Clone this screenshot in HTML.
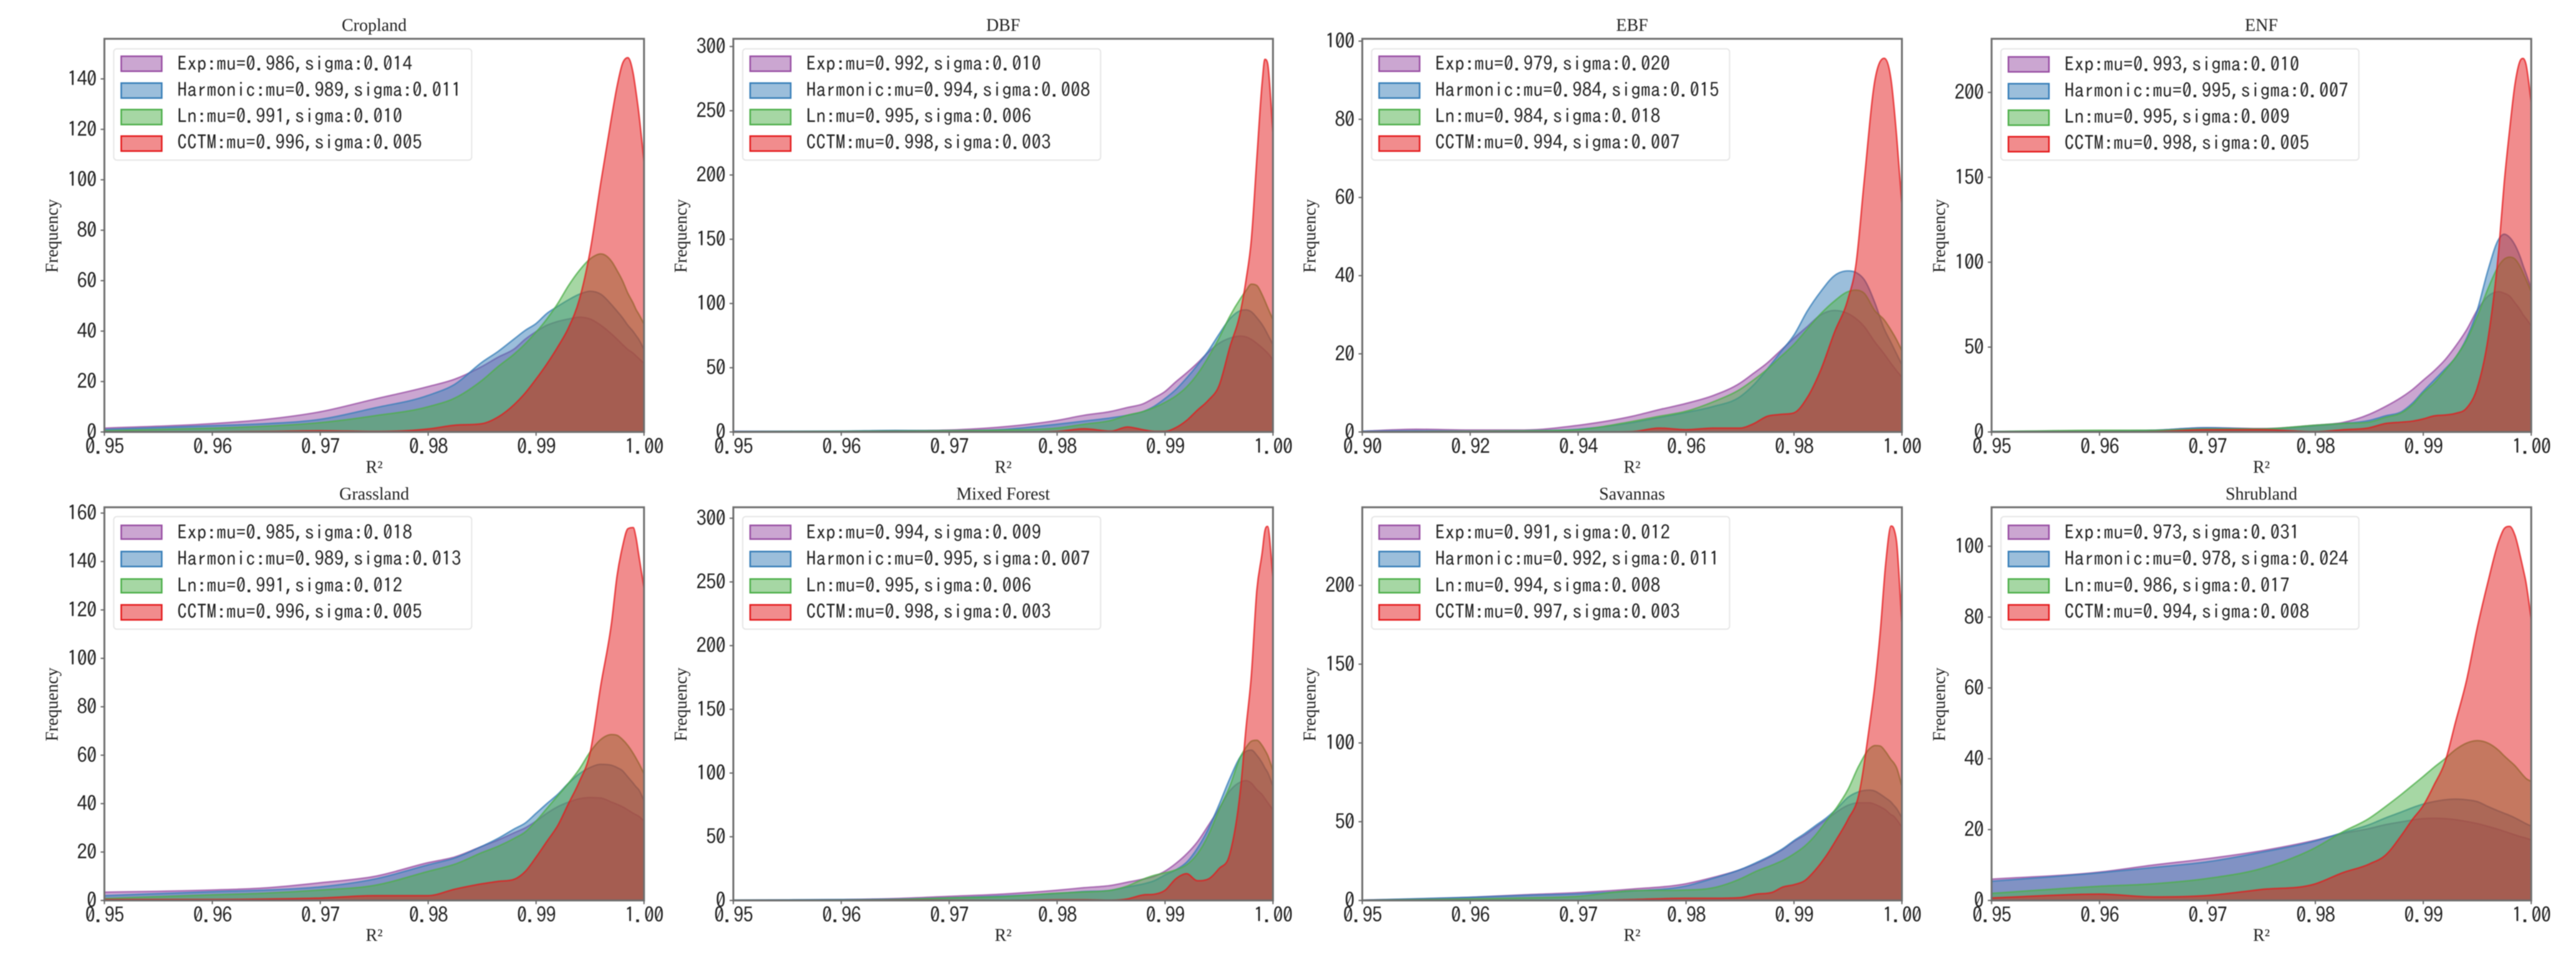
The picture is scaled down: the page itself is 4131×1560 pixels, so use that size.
<!DOCTYPE html>
<html lang="en">
<head>
<meta charset="utf-8">
<title>R² frequency distributions by land cover</title>
<style>
html,body{margin:0;padding:0;background:#fff;width:4131px;height:1560px;overflow:hidden}
svg{display:block;filter:blur(0.7px)}
.ttl,.axl{font-family:"Liberation Serif",serif;font-size:28px;fill:#222;text-anchor:middle}
.tick{font-family:"IPAGothic","Liberation Mono",monospace;font-size:33px;fill:#222;letter-spacing:-1px}
.lg{font-family:"IPAGothic","Liberation Mono",monospace;font-size:31px;fill:#222;letter-spacing:0.2px}
.frame{fill:#fff;fill-opacity:.8;stroke:#e6e6e6;stroke-width:2}
.pe{fill:#984ea3;fill-opacity:.5;stroke:#984ea3;stroke-width:2.5}
.ph{fill:#377eb8;fill-opacity:.5;stroke:#377eb8;stroke-width:2.5}
.pl{fill:#4daf4a;fill-opacity:.5;stroke:#4daf4a;stroke-width:2.5}
.pc{fill:#e41a1c;fill-opacity:.5;stroke:#e41a1c;stroke-width:2.5}
</style>
</head>
<body>
<svg xmlns="http://www.w3.org/2000/svg" width="4131" height="1560" viewBox="0 0 4131 1560">
<rect width="4131" height="1560" fill="#fff"/>

<g id="p-cropland" transform="translate(167.4,62.2)">
  <g class="plot"></g>
  <text class="ttl" x="432.7" y="-12.5">Cropland</text>
  <text class="axl" x="432.7" y="696">R²</text>
  <text class="axl" transform="translate(-75,316) rotate(-90)">Frequency</text>
  <g>
    <rect class="frame" x="15" y="16" width="574" height="178.5" rx="5"/>
    <rect class="pe" x="27" y="28" width="65" height="24"/>
    <text class="lg" x="117" y="51">Exp:mu=0.986,sigma:0.014</text>
    <rect class="ph" x="27" y="71" width="65" height="24"/>
    <text class="lg" x="117" y="93">Harmonic:mu=0.989,sigma:0.011</text>
    <rect class="pl" x="27" y="113.5" width="65" height="24"/>
    <text class="lg" x="117" y="135">Ln:mu=0.991,sigma:0.010</text>
    <rect class="pc" x="27" y="156" width="65" height="24"/>
    <text class="lg" x="117" y="177">CCTM:mu=0.996,sigma:0.005</text>
  </g>
</g>

<g id="p-dbf" transform="translate(1176,62.2)">
  <g class="plot"></g>
  <text class="ttl" x="432.7" y="-12.5">DBF</text>
  <text class="axl" x="432.7" y="696">R²</text>
  <text class="axl" transform="translate(-75,316) rotate(-90)">Frequency</text>
  <g>
    <rect class="frame" x="15" y="16" width="574" height="178.5" rx="5"/>
    <rect class="pe" x="27" y="28" width="65" height="24"/>
    <text class="lg" x="117" y="51">Exp:mu=0.992,sigma:0.010</text>
    <rect class="ph" x="27" y="71" width="65" height="24"/>
    <text class="lg" x="117" y="93">Harmonic:mu=0.994,sigma:0.008</text>
    <rect class="pl" x="27" y="113.5" width="65" height="24"/>
    <text class="lg" x="117" y="135">Ln:mu=0.995,sigma:0.006</text>
    <rect class="pc" x="27" y="156" width="65" height="24"/>
    <text class="lg" x="117" y="177">CCTM:mu=0.998,sigma:0.003</text>
  </g>
</g>

<g id="p-ebf" transform="translate(2184.6,62.2)">
  <g class="plot"></g>
  <text class="ttl" x="432.7" y="-12.5">EBF</text>
  <text class="axl" x="432.7" y="696">R²</text>
  <text class="axl" transform="translate(-75,316) rotate(-90)">Frequency</text>
  <g>
    <rect class="frame" x="15" y="16" width="574" height="178.5" rx="5"/>
    <rect class="pe" x="27" y="28" width="65" height="24"/>
    <text class="lg" x="117" y="51">Exp:mu=0.979,sigma:0.020</text>
    <rect class="ph" x="27" y="71" width="65" height="24"/>
    <text class="lg" x="117" y="93">Harmonic:mu=0.984,sigma:0.015</text>
    <rect class="pl" x="27" y="113.5" width="65" height="24"/>
    <text class="lg" x="117" y="135">Ln:mu=0.984,sigma:0.018</text>
    <rect class="pc" x="27" y="156" width="65" height="24"/>
    <text class="lg" x="117" y="177">CCTM:mu=0.994,sigma:0.007</text>
  </g>
</g>

<g id="p-enf" transform="translate(3193.8,62.2)">
  <g class="plot"></g>
  <text class="ttl" x="432.7" y="-12.5">ENF</text>
  <text class="axl" x="432.7" y="696">R²</text>
  <text class="axl" transform="translate(-75,316) rotate(-90)">Frequency</text>
  <g>
    <rect class="frame" x="15" y="16" width="574" height="178.5" rx="5"/>
    <rect class="pe" x="27" y="29" width="65" height="24"/>
    <text class="lg" x="117" y="52">Exp:mu=0.993,sigma:0.010</text>
    <rect class="ph" x="27" y="72" width="65" height="24"/>
    <text class="lg" x="117" y="94">Harmonic:mu=0.995,sigma:0.007</text>
    <rect class="pl" x="27" y="114.5" width="65" height="24"/>
    <text class="lg" x="117" y="136">Ln:mu=0.995,sigma:0.009</text>
    <rect class="pc" x="27" y="157" width="65" height="24"/>
    <text class="lg" x="117" y="178">CCTM:mu=0.998,sigma:0.005</text>
  </g>
</g>

<g id="p-grassland" transform="translate(167.4,813.3)">
  <g class="plot"></g>
  <text class="ttl" x="432.7" y="-12.5">Grassland</text>
  <text class="axl" x="432.7" y="695">R²</text>
  <text class="axl" transform="translate(-75,316) rotate(-90)">Frequency</text>
  <g>
    <rect class="frame" x="15" y="15" width="574" height="180.5" rx="5"/>
    <rect class="pe" x="27" y="29" width="65" height="22"/>
    <text class="lg" x="117" y="51">Exp:mu=0.985,sigma:0.018</text>
    <rect class="ph" x="27" y="71" width="65" height="24"/>
    <text class="lg" x="117" y="93">Harmonic:mu=0.989,sigma:0.013</text>
    <rect class="pl" x="27" y="115" width="65" height="22"/>
    <text class="lg" x="117" y="136">Ln:mu=0.991,sigma:0.012</text>
    <rect class="pc" x="27" y="156.5" width="65" height="24"/>
    <text class="lg" x="117" y="178">CCTM:mu=0.996,sigma:0.005</text>
  </g>
</g>

<g id="p-mixed" transform="translate(1176,813.3)">
  <g class="plot"></g>
  <text class="ttl" x="432.7" y="-12.5">Mixed Forest</text>
  <text class="axl" x="432.7" y="695">R²</text>
  <text class="axl" transform="translate(-75,316) rotate(-90)">Frequency</text>
  <g>
    <rect class="frame" x="15" y="15" width="574" height="180.5" rx="5"/>
    <rect class="pe" x="27" y="29" width="65" height="22"/>
    <text class="lg" x="117" y="51">Exp:mu=0.994,sigma:0.009</text>
    <rect class="ph" x="27" y="71" width="65" height="24"/>
    <text class="lg" x="117" y="93">Harmonic:mu=0.995,sigma:0.007</text>
    <rect class="pl" x="27" y="115" width="65" height="22"/>
    <text class="lg" x="117" y="136">Ln:mu=0.995,sigma:0.006</text>
    <rect class="pc" x="27" y="156.5" width="65" height="24"/>
    <text class="lg" x="117" y="178">CCTM:mu=0.998,sigma:0.003</text>
  </g>
</g>

<g id="p-savannas" transform="translate(2184.6,813.3)">
  <g class="plot"></g>
  <text class="ttl" x="432.7" y="-12.5">Savannas</text>
  <text class="axl" x="432.7" y="695">R²</text>
  <text class="axl" transform="translate(-75,316) rotate(-90)">Frequency</text>
  <g>
    <rect class="frame" x="15" y="15" width="574" height="180.5" rx="5"/>
    <rect class="pe" x="27" y="29" width="65" height="22"/>
    <text class="lg" x="117" y="51">Exp:mu=0.991,sigma:0.012</text>
    <rect class="ph" x="27" y="71" width="65" height="24"/>
    <text class="lg" x="117" y="93">Harmonic:mu=0.992,sigma:0.011</text>
    <rect class="pl" x="27" y="115" width="65" height="22"/>
    <text class="lg" x="117" y="136">Ln:mu=0.994,sigma:0.008</text>
    <rect class="pc" x="27" y="156.5" width="65" height="24"/>
    <text class="lg" x="117" y="178">CCTM:mu=0.997,sigma:0.003</text>
  </g>
</g>

<g id="p-shrubland" transform="translate(3193.8,813.3)">
  <g class="plot"></g>
  <text class="ttl" x="432.7" y="-12.5">Shrubland</text>
  <text class="axl" x="432.7" y="695">R²</text>
  <text class="axl" transform="translate(-75,316) rotate(-90)">Frequency</text>
  <g>
    <rect class="frame" x="15" y="15" width="574" height="180.5" rx="5"/>
    <rect class="pe" x="27" y="29" width="65" height="22"/>
    <text class="lg" x="117" y="51">Exp:mu=0.973,sigma:0.031</text>
    <rect class="ph" x="27" y="71" width="65" height="24"/>
    <text class="lg" x="117" y="93">Harmonic:mu=0.978,sigma:0.024</text>
    <rect class="pl" x="27" y="115" width="65" height="22"/>
    <text class="lg" x="117" y="136">Ln:mu=0.986,sigma:0.017</text>
    <rect class="pc" x="27" y="156.5" width="65" height="24"/>
    <text class="lg" x="117" y="178">CCTM:mu=0.994,sigma:0.008</text>
  </g>
</g>
</svg>

<script>
// Shared R² sample grids
const r2Grid = [.95,.96,.965,.97,.975,.98,.9825,.985,.9865,.988,.989,.99,.991,.992,.993,.994,.995,.996,.997,.9975,.998,.9985,.999,.99925,.9995,1];
const r2GridEbf = [.90,.91,.92,.93,.94,.95,.955,.96,.965,.97,.9725,.975,.9775,.98,.9825,.985,.9875,.99,.9915,.993,.995,.9967,.998,.999,1];

// Tick labels
const xTicksDefault = ["0.95","0.96","0.97","0.98","0.99","1.00"];
const xTicksEbf = ["0.90","0.92","0.94","0.96","0.98","1.00"];
const yTicksCropland = [0,20,40,60,80,100,120,140];
const yTicksDbf = [0,50,100,150,200,250,300];
const yTicksEbf = [0,20,40,60,80,100];
const yTicksEnf = [0,50,100,150,200];
const yTicksGrassland = [0,20,40,60,80,100,120,140,160];
const yTicksMixed = [0,50,100,150,200,250,300];
const yTicksSavannas = [0,50,100,150,200];
const yTicksShrubland = [0,20,40,60,80,100];

// Cropland
const croplandExp = [1.5,3.3,5,8,13,18,21,26,29.7,33,36.8,39.8,42.3,43.8,44.8,45.5,44.8,42.3,38.8,36.8,34.7,32.7,31.2,30.2,29.2,27.2];
const croplandHarmonic = [1,2.5,3.3,5,9.5,14.5,19,27.7,32,37,40.3,43,47,49.8,52.4,54.6,55.8,54.6,50.4,47.9,45.3,42.3,39.8,38.3,36.8,32.7];
const croplandLn = [.5,1.5,2.3,3.7,6.4,10,13.5,20.5,26,31,35,39.6,44.8,50.9,58,64,68.6,70.6,67.6,64,60,55,51,48.6,46.8,42.8];
const croplandCctm = [0,.1,.2,.5,.2,1.2,2.7,3.3,6,11,15.5,21,27,33.7,41.3,52.4,71.6,99,125,137,146,148.4,142,135,127,107];

// DBF
const dbfExp = [.5,.5,1,1.5,4,9,13,16,19,22,26.5,31.5,39,46,53.6,62,69,73,74.6,74,72,69,65.5,63.5,61.5,56];
const dbfHarmonic = [.5,.7,1.2,1,2,6,8.5,11,13,16,20,26,33,42,52,63,76,88,94.5,95,93.5,89,83.5,80,76,68];
const dbfLn = [.2,.5,.7,1,1.5,3,6,9,13,16,19,23,28,35,45,58,73,90,104,110,115,114,106.7,102,97,87.4];
const dbfCctm = [0,0,0,0,0,.5,2.5,.7,3.9,1.7,.5,.5,3.4,9,17,24.6,36,66,94,118,150,212,272,290,287,232];

// EBF
const ebfExp = [.2,.7,.5,.5,1.7,4,5.7,7.3,9.3,12.5,15,17.6,20.8,24,27,30,31.1,30.3,29,27,23,20,17.5,15.7,14];
const ebfHarmonic = [.2,.3,.2,.3,.7,2.4,3.7,5,6.5,9,12,16,20.4,24.8,31,36,40,41.2,40.8,39,33,26.4,22.8,20,17.2];
const ebfLn = [0,.1,.2,.3,.6,2.7,4,5.3,7.7,10.9,13.3,16,19.2,22.4,26.4,30.3,33.5,35.9,36.3,35.5,31,28.7,26,23.6,20.8];
const ebfCctm = [0,0,0,0,0,.1,1,.6,1,1,2.1,4,4.5,4.9,8.9,16,25.5,34,43,64,90,95.6,90,76,58];

// ENF
const enfExp = [.3,.5,1,2.5,2,4,5.5,10.4,15,20.5,25,30.5,36,42.4,50.6,60,71.7,80,82.6,81.7,80,76,71.7,69,67,62.5];
const enfHarmonic = [.3,.5,1,2.5,1.7,3.7,5,6.8,9.5,12,17,24,30.5,37,44,55,71.7,95.4,113.7,116.5,114.6,110,102.7,98,93.6,84.5];
const enfLn = [.2,1,1,1.8,1.8,4,5,5.8,8.6,11.3,16,23,28.7,36,44,54,68,84.5,98,101.8,103,101.8,97,93.6,90,82.6];
const enfCctm = [0,0,.2,1.3,1.3,.2,1.3,2.5,5,5.8,6.4,7.7,9.5,10,11,14,26,55,108,147,178,205,219,220,217,194];

// Grassland
const grassExp = [3.4,4.3,5.2,7.3,9.9,15.6,18,22.4,25,28,30,32.8,36,38.7,40.6,42,42.5,42.3,40.6,39.7,38.7,37.4,36,35.4,34.8,32.8];
const grassHarmonic = [2,3.6,4.3,5.6,8.8,14.7,17.6,22.4,25.7,29.6,32,36,40,43.8,48.4,52.3,54.9,56.2,55.8,54.9,53.6,51,48.4,47,45.8,41.2];
const grassLn = [.8,2.3,3,4.3,6.2,12,15,19.8,22.4,25.7,28.3,32.8,38,43.2,48.4,54.2,61.3,66.5,68.5,68.2,66.5,64,60.7,58.8,56.8,52.3];
const grassCctm = [.4,.4,.6,1,2,2,4.7,6.9,7.9,8.8,12,17.9,24.4,30.9,40,49,61,89,115,134,146,153.5,154,150,143,129];

// Mixed Forest
const mixedExp = [.2,.7,1.5,3.2,5,8,10,11.8,14.3,16.8,19,23,29,36.5,46,58.7,72,86,93,94,92,87,83,80,77,71];
const mixedHarmonic = [.3,.7,1,2,3.5,5.5,7,8,10.6,13,15.5,20,24,30,41,56,75,95.6,113,117,118,114,108,104,100.6,89.5];
const mixedLn = [.1,.3,.7,2,3,5.7,6.7,8,11.3,16.8,19.7,21.7,24,28,36.5,51,71,89.5,113,120,125,125.7,121.5,118,114,101.8];
const mixedCctm = [0,0,.3,.2,0,.5,.5,.2,1.2,4.4,4.9,8,17,21,15.5,16.8,25,36.5,88,135,177,243,273,290,293.6,253];

// Savannas
const savExp = [.2,2,3.6,5,7.2,10.6,14.6,19.5,23.5,28.5,32.5,37.5,41.5,46.5,51.4,56.4,60.4,62,62,61,59.4,57.4,54.4,53.4,51.4,46.5];
const savHarmonic = [.2,2,3.2,4.2,6,9.2,14,19.5,24,29,33,38,42.5,47.5,52.4,58.4,65.4,69,70,69.4,67.4,65,62.4,60.4,58.4,52.4];
const savLn = [.1,1,1.6,2.6,6.2,6.6,8,13.6,18.5,22.5,25.5,29.5,34.5,41.5,50.4,59.4,70.4,85.3,96.3,98.3,98,94.3,89.3,87.3,84.3,72.4];
const savCctm = [0,0,0,0,.6,1.4,1.4,1.8,4,5.2,8.6,10,12.6,19.5,28.5,39.5,51.4,67,111,137,171,214,237.7,236,228,175];

// Shrubland
const shrubExp = [6,8,10,11.8,14,17,18.9,20.3,21.4,22.2,22.7,23.1,23.2,23.1,22.8,22.3,21.7,20.9,20,19.5,19,18.5,18,17.8,17.6,17.1];
const shrubHarmonic = [5.4,7.8,9.3,10.9,13.6,16.8,19.1,21.4,23.3,25,26.2,27.2,27.9,28.4,28.6,28.4,27.9,26.5,25.2,24.6,24,23.3,22.5,22.1,21.7,21];
const shrubLn = [2,4,4.7,6.2,9,14.9,19.3,23.2,26.5,30,32.5,35,37.6,40,42.6,44.4,45.1,44.4,42.3,40.8,39.4,38,36.2,35.3,34.5,33.6];
const shrubCctm = [.7,1.8,1,1.4,3.1,4.7,7.8,10.3,12.8,18.5,22.9,26.8,32.6,39,50.5,62,77,90,101.5,105,105.6,103,97,93.6,90,79.3];

const SVGNS = "http://www.w3.org/2000/svg";
const PLOT_W = 865.4;
const PLOT_H = 630.4;
const seriesNames = ["exp","harmonic","ln","cctm"];
const seriesColors = ["#984ea3","#377eb8","#4daf4a","#e41a1c"];

function make(tag, attrs) {
  const el = document.createElementNS(SVGNS, tag);
  for (const k in attrs) el.setAttribute(k, attrs[k]);
  return el;
}

// Smooth, shape-limited cubic path through pixel points
function curvePath(pts) {
  const n = pts.length, d = [], m = [];
  for (let i = 0; i < n - 1; i++) d.push((pts[i+1][1] - pts[i][1]) / (pts[i+1][0] - pts[i][0]));
  m[0] = d[0];
  m[n-1] = d[n-2];
  for (let i = 1; i < n - 1; i++) {
    if (d[i-1] * d[i] <= 0) { m[i] = 0; continue; }
    const h0 = pts[i][0] - pts[i-1][0], h1 = pts[i+1][0] - pts[i][0];
    const t = (d[i-1] * h1 + d[i] * h0) / (h0 + h1);
    const lim = 3 * Math.min(Math.abs(d[i-1]), Math.abs(d[i]));
    m[i] = Math.sign(t) * Math.min(Math.abs(t), lim);
  }
  let s = "";
  for (let i = 0; i < n - 1; i++) {
    const h = pts[i+1][0] - pts[i][0];
    s += " C" + (pts[i][0] + h/3).toFixed(2) + "," + Math.min(pts[i][1] + m[i]*h/3, PLOT_H).toFixed(2) +
         " " + (pts[i+1][0] - h/3).toFixed(2) + "," + Math.min(pts[i+1][1] - m[i+1]*h/3, PLOT_H).toFixed(2) +
         " " + pts[i+1][0].toFixed(2) + "," + pts[i+1][1].toFixed(2);
  }
  return s;
}

function drawPanel(id, grid, xMin, xMax, yMax, xLabels, yTicks, series) {
  const plot = document.querySelector("#" + id + " .plot");
  const xScale = v => (v - xMin) / (xMax - xMin) * PLOT_W;
  const yScale = v => PLOT_H - v / yMax * PLOT_H;

  series.forEach((vals, s) => {
    const pts = grid.map((x, i) => [xScale(x), yScale(vals[i])]);
    const body = curvePath(pts);
    const area = make("path", {
      d: "M" + pts[0][0] + "," + PLOT_H + " L" + pts[0][0].toFixed(2) + "," + pts[0][1].toFixed(2) + body + " L" + PLOT_W + "," + PLOT_H + " Z",
      fill: seriesColors[s], "fill-opacity": 0.5
    });
    
    
    plot.appendChild(area);
    const line = make("path", {
      d: "M" + pts[0][0].toFixed(2) + "," + pts[0][1].toFixed(2) + body,
      fill: "none", stroke: seriesColors[s], "stroke-width": 2.5, "stroke-opacity": 0.75
    });
    
    
    plot.appendChild(line);
  });

  const frame = make("rect", { x: 0, y: 0, width: PLOT_W, height: PLOT_H, fill: "none", stroke: "#6e6e6e", "stroke-width": 3 });
  
  
  plot.appendChild(frame);

  xLabels.forEach(label => {
    const px = xScale(parseFloat(label));
    const tick = make("line", { x1: px, x2: px, y1: PLOT_H, y2: PLOT_H + 6, stroke: "#666", "stroke-width": 2 });
    
    
    plot.appendChild(tick);
    const t = make("text", { class: "tick", x: px, y: PLOT_H + 35, "text-anchor": "middle" });
    t.textContent = label;
    
    
    plot.appendChild(t);
  });

  yTicks.forEach(v => {
    const py = yScale(v);
    const tick = make("line", { x1: -6, x2: 0, y1: py, y2: py, stroke: "#666", "stroke-width": 2 });
    
    
    plot.appendChild(tick);
    const t = make("text", { class: "tick", x: -13, y: py + 11.5, "text-anchor": "end" });
    t.textContent = String(v);
    
    
    plot.appendChild(t);
  });
}

drawPanel("p-cropland", r2Grid, .95, 1, 155.9, xTicksDefault, yTicksCropland, [croplandExp, croplandHarmonic, croplandLn, croplandCctm]);
drawPanel("p-dbf", r2Grid, .95, 1, 306, xTicksDefault, yTicksDbf, [dbfExp, dbfHarmonic, dbfLn, dbfCctm]);
drawPanel("p-ebf", r2GridEbf, .90, 1, 100.6, xTicksEbf, yTicksEbf, [ebfExp, ebfHarmonic, ebfLn, ebfCctm]);
drawPanel("p-enf", r2Grid, .95, 1, 231.6, xTicksDefault, yTicksEnf, [enfExp, enfHarmonic, enfLn, enfCctm]);
drawPanel("p-grassland", r2Grid, .95, 1, 162.4, xTicksDefault, yTicksGrassland, [grassExp, grassHarmonic, grassLn, grassCctm]);
drawPanel("p-mixed", r2Grid, .95, 1, 308.6, xTicksDefault, yTicksMixed, [mixedExp, mixedHarmonic, mixedLn, mixedCctm]);
drawPanel("p-savannas", r2Grid, .95, 1, 249.6, xTicksDefault, yTicksSavannas, [savExp, savHarmonic, savLn, savCctm]);
drawPanel("p-shrubland", r2Grid, .95, 1, 111, xTicksDefault, yTicksShrubland, [shrubExp, shrubHarmonic, shrubLn, shrubCctm]);
</script>
</body>
</html>
